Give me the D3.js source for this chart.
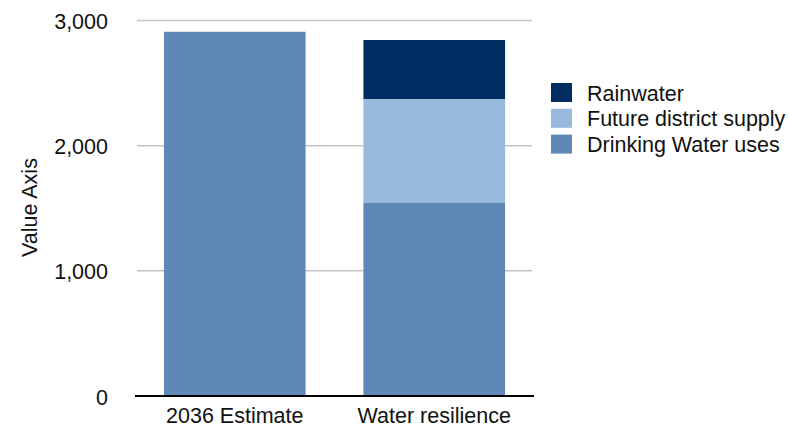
<!DOCTYPE html>
<html>
<head>
<meta charset="utf-8">
<script src="https://cdn.jsdelivr.net/npm/d3@7"></script>
<style>
  html, body { margin: 0; padding: 0; background: #fff; }
  svg { display: block; font-family: "Liberation Sans", Arial, Helvetica, sans-serif; }
</style>
</head>
<body>
<svg id="chart" width="790" height="427"></svg>
<script>
// Categories along the x axis
const categories = ["2036 Estimate", "Water resilience"];
// Stacked series, bottom to top
const seriesNames = ["Drinking Water uses", "Future district supply", "Rainwater"];
const drinkingWater = [2910, 1542];
const districtSupply = [0, 831];
const rainwater = [0, 471];
const seriesColors = ["#5f87b8", "#97b9db", "#002d62"];
// Y axis ticks
const yTicks = [0, 1000, 2000, 3000];

const rows = categories.map((c, i) => ({
  category: c,
  "Drinking Water uses": drinkingWater[i],
  "Future district supply": districtSupply[i],
  "Rainwater": rainwater[i]
}));

const svg = d3.select("#chart");
const plot = { left: 135, right: 534, top: 20.5, bottom: 396 };
const fontSize = 21.5;

const x = d3.scaleBand().domain(categories).range([plot.left, plot.right]).paddingInner(0.29).paddingOuter(0.145);
const y = d3.scaleLinear().domain([0, 3000]).range([plot.bottom, plot.top]);

// Gridlines
svg.append("g").selectAll("line")
  .data(yTicks.filter(d => d > 0))
  .join("line")
  .attr("x1", plot.left + 2).attr("x2", plot.right - 2)
  .attr("y1", d => y(d)).attr("y2", d => y(d))
  .attr("stroke", "#c4c4c4").attr("stroke-width", 1.5);

// Y tick labels
svg.append("g").selectAll("text")
  .data(yTicks)
  .join("text")
  .attr("x", 108).attr("y", d => y(d) + 8.5)
  .attr("text-anchor", "end")
  .attr("font-size", fontSize)
  .attr("fill", "#111")
  .text(d => d3.format(",")(d));

// Y axis title
svg.append("text")
  .attr("transform", `translate(36.5,207.5) rotate(-90)`)
  .attr("text-anchor", "middle")
  .attr("font-size", fontSize)
  .attr("fill", "#111")
  .text("Value Axis");

// Stacked bars
const stack = d3.stack().keys(seriesNames)(rows);
svg.append("g").selectAll("g")
  .data(stack)
  .join("g")
  .attr("fill", (d, i) => seriesColors[i])
  .selectAll("rect")
  .data(d => d.filter(s => s[1] - s[0] > 0))
  .join("rect")
  .attr("x", d => x(d.data.category))
  .attr("width", x.bandwidth())
  .attr("y", d => y(d[1]))
  .attr("height", d => y(d[0]) - y(d[1]));

// Baseline
svg.append("line")
  .attr("x1", plot.left).attr("x2", plot.right)
  .attr("y1", y(0)).attr("y2", y(0))
  .attr("stroke", "#000").attr("stroke-width", 2);

// Category labels
svg.append("g").selectAll("text")
  .data(categories)
  .join("text")
  .attr("x", d => x(d) + x.bandwidth() / 2)
  .attr("y", 423)
  .attr("text-anchor", "middle")
  .attr("font-size", fontSize)
  .attr("fill", "#111")
  .text(d => d);

// Legend, top entry first
const legendItems = seriesNames.map((n, i) => ({ name: n, color: seriesColors[i] })).reverse();
const legend = svg.append("g").selectAll("g")
  .data(legendItems)
  .join("g")
  .attr("transform", (d, i) => `translate(551,${83 + i * 25.8})`);
legend.append("rect")
  .attr("width", 21).attr("height", 19)
  .attr("fill", d => d.color);
legend.append("text")
  .attr("x", 36).attr("y", 17.5)
  .attr("font-size", fontSize)
  .attr("fill", "#111")
  .text(d => d.name);
</script>
</body>
</html>
